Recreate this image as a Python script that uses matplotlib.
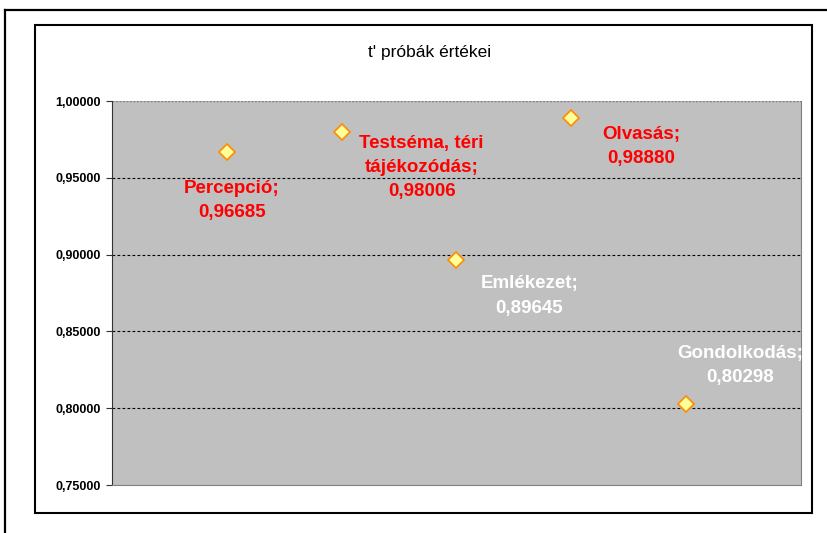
import matplotlib
matplotlib.use("Agg")
import matplotlib.pyplot as plt
from matplotlib.patches import Rectangle
from matplotlib.lines import Line2D
from matplotlib.ticker import FixedLocator, FuncFormatter

plt.rcParams["font.family"] = ["Liberation Sans", "DejaVu Sans"]

# data
labels = ["Percepció", "Testséma, téri\ntájékozódás", "Emlékezet", "Olvasás", "Gondolkodás"]
xpos = [1, 2, 3, 4, 5]
values = [0.96685, 0.98006, 0.89645, 0.98880, 0.80298]
yticks = [0.75, 0.80, 0.85, 0.90, 0.95, 1.00]

# label placement (pixel offsets from the marker) and colour
offsets = [(5, -49), (80, -36), (73, -36), (70, -28), (54, 38)]
lab_col = ["#FF0000", "#FF0000", "#FFFFFF", "#FF0000", "#FFFFFF"]

W, H = 828, 533
fig = plt.figure(figsize=(W / 100, H / 100), dpi=100)
fig.patch.set_facecolor("white")

def fx(px):
    return px / W

def fy(py):
    return 1 - py / H

# outer frame (top + left visible)
fig.add_artist(Line2D([fx(5), fx(828)], [fy(9.5), fy(9.5)], color="black", lw=1.6))
fig.add_artist(Line2D([fx(5), fx(5)], [fy(9.5), fy(533)], color="black", lw=1.6))
# chart box
fig.add_artist(Rectangle((fx(35), fy(513)), fx(812) - fx(35), fy(25) - fy(513),
                         fill=False, ec="black", lw=1.5))

ax = fig.add_axes([fx(112), fy(485), fx(801) - fx(112), fy(101) - fy(485)])
ax.set_facecolor("#C0C0C0")
ax.set_xlim(0, 6)
ax.set_ylim(0.75, 1.0)
ax.set_xticks([])
ax.yaxis.set_major_locator(FixedLocator(yticks))
ax.yaxis.set_major_formatter(FuncFormatter(lambda v, p: ("%.5f" % v).replace(".", ",")))
ax.tick_params(axis="y", labelsize=9, length=4, width=0.8, color="#333333", pad=4)
for t in ax.get_yticklabels():
    t.set_fontweight("bold")

for y in yticks[1:-1]:
    ax.axhline(y, color="black", lw=0.8, ls=(0, (2.5, 2)), zorder=1)
ax.axhline(1.0, color="#808080", lw=1.0, ls=(0, (1.5, 1)), zorder=1)
ax.spines["left"].set_color("#333333")
ax.spines["bottom"].set_color("#808080")
ax.spines["right"].set_color("#808080")
ax.spines["top"].set_visible(False)

ax.plot(xpos, values, ls="none", marker="D", markersize=8.5,
        mfc="#FFFF99", mec="#FF8C00", mew=1.2, zorder=3, clip_on=False)

for x, v, lab, (dx, dy), c in zip(xpos, values, labels, offsets, lab_col):
    txt = "%s;\n%s" % (lab, ("%.5f" % v).replace(".", ","))
    ax.annotate(txt, (x, v), xytext=(dx, dy), textcoords="offset pixels",
                ha="center", va="center", fontsize=13.5, fontweight="bold",
                color=c, linespacing=1.55, zorder=4)

fig.text(fx(430), fy(52), "t' próbák értékei", ha="center", va="center", fontsize=12.5)

fig.savefig("out.png", dpi=100, facecolor="white")
